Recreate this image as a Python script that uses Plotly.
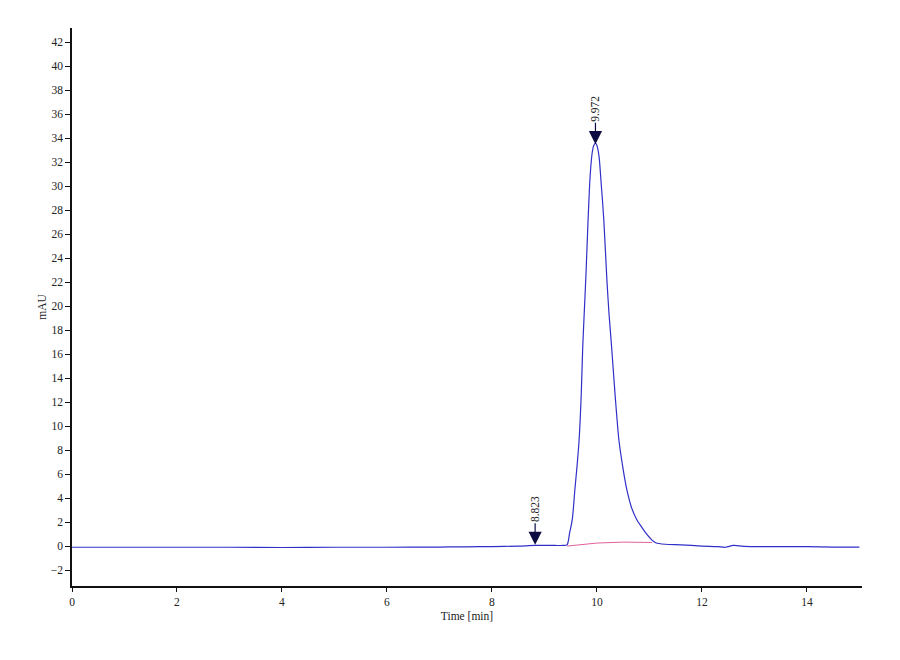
import plotly.graph_objects as go

# Chromatogram trace (time in min, signal in mAU)
time_min = [0, 1, 2, 3, 4, 5, 6, 7, 7.5, 8, 8.5, 8.823, 9.2, 9.35, 9.43, 9.48,
            9.53, 9.58, 9.62, 9.66, 9.70, 9.73, 9.76, 9.79, 9.83, 9.87, 9.91,
            9.94, 9.972, 10.0, 10.04, 10.08, 10.13, 10.19, 10.23, 10.28, 10.35,
            10.42, 10.5, 10.57, 10.66, 10.76, 10.85, 10.93, 11.05, 11.12, 11.3,
            11.6, 12.0, 12.3, 12.45, 12.6, 12.8, 13.5, 14.0, 14.5, 15.0]
signal_mau = [-0.1, -0.1, -0.1, -0.1, -0.12, -0.1, -0.1, -0.08, -0.06, -0.04, 0.0,
              0.05, 0.05, 0.05, 0.1, 1.1,
              2.2, 4.7, 6.6, 8.8, 12.5, 16.6, 19.6, 22.5, 27.0, 30.8, 32.8,
              33.4, 33.6, 33.4, 32.5, 30.3, 27.3, 22.2, 19.4, 16.6, 12.4,
              8.8, 6.4, 4.7, 3.2, 2.2, 1.6, 1.1, 0.5, 0.28, 0.15,
              0.1, 0.0, -0.05, -0.1, 0.05, -0.02, -0.05, -0.05, -0.08, -0.08]

# Integration baseline under the main peak
base_time = [9.43, 10.0, 10.5, 11.05]
base_mau = [0.0, 0.25, 0.33, 0.3]

# Peak labels
peak_times = [8.823, 9.972]
peak_heights = [0.1, 33.5]
peak_labels = ["8.823", "9.972"]

y_ticks = list(range(-2, 43, 2))
x_ticks = list(range(0, 15, 2))

FONT = "Liberation Serif, Times New Roman, serif"

fig = go.Figure()
fig.add_trace(go.Scatter(x=base_time, y=base_mau, mode="lines",
                         line=dict(color="#e0609c", width=1), showlegend=False))
fig.add_trace(go.Scatter(x=time_min, y=signal_mau, mode="lines",
                         line=dict(color="#3030c8", width=1.2, shape="spline", smoothing=0.8),
                         showlegend=False))

for t, h, lab in zip(peak_times, peak_heights, peak_labels):
    fig.add_annotation(x=t, y=h, xref="x", yref="y", text=lab, textangle=-90,
                       showarrow=True, arrowhead=2, arrowsize=2.2, arrowwidth=1.2,
                       arrowcolor="#0a0a40", ax=0, ay=-36,
                       font=dict(family=FONT, size=11.5, color="#222"))

fig.update_layout(
    width=900, height=660,
    margin=dict(l=64, r=46, t=20, b=82),
    paper_bgcolor="white", plot_bgcolor="white",
    font=dict(family=FONT, size=11.5, color="#222"),
    showlegend=False,
)
fig.update_xaxes(range=[0, 15.05], tickvals=x_ticks, ticks="outside", ticklen=4,
                 tickwidth=1, tickcolor="#111", showline=True, linecolor="#111",
                 linewidth=1.5, showgrid=False, zeroline=False,
                 title=dict(text="Time [min]", font=dict(family=FONT, size=11.5), standoff=5))
fig.update_yaxes(range=[-3.33, 43.2], tickvals=y_ticks, ticks="outside", ticklen=5,
                 tickwidth=1, tickcolor="#111", showline=True, linecolor="#111",
                 linewidth=1.5, showgrid=False, zeroline=False,
                 title=dict(text="mAU", font=dict(family=FONT, size=11.5), standoff=2))

fig.write_html("out.html")
